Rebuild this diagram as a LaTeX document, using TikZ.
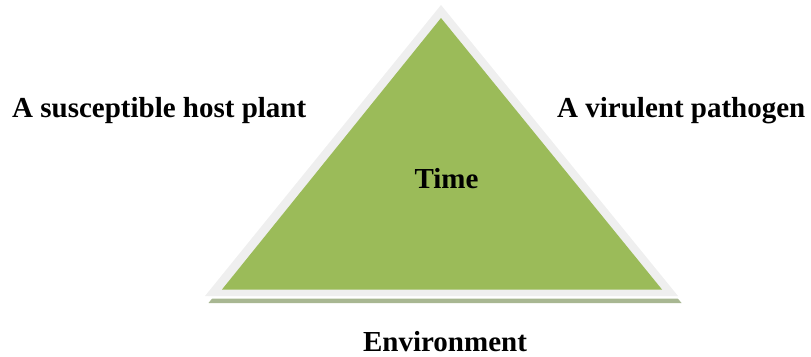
\documentclass[tikz,border=0pt]{standalone}
\usepackage{fontspec}
\setmainfont{Liberation Serif}
\begin{document}
\begin{tikzpicture}[x=1pt,y=-1pt,
  label/.style={font=\fontsize{29}{34}\selectfont\bfseries, inner sep=0pt, text=black},
  face/.style={fill=triGreen},
  rim/.style={fill=rimGray},
  shade/.style={fill=shadeGreen}]
\definecolor{triGreen}{HTML}{9BBB59}
\definecolor{rimGray}{HTML}{EFEFEF}
\definecolor{shadeGreen}{HTML}{A8B792}
\useasboundingbox (0,0) rectangle (811,356);
% corner points of the outer rim
\coordinate (top) at (441,5);
\coordinate (bl) at (205,296);
\coordinate (br) at (678,296);
% drop shadow and the white gap above it
\fill[shade] ([shift={(3.5,7)}]top) -- ([shift={(3.5,7)}]bl) -- ([shift={(3.5,7)}]br) -- cycle;
\fill[white] ([shift={(1,2.5)}]top) -- ([shift={(1,2.5)}]bl) -- ([shift={(1,2.5)}]br) -- cycle;
% light rim and green face
\fill[rim] (top) -- (bl) -- (br) -- cycle;
\fill[face] (441,18) -- (222,289.5) -- (662,289.5) -- cycle;
% labels
\node[label, anchor=base west] (host) at (12,117) {A susceptible host plant};
\node[label, anchor=base west] (pathogen) at (557,117) {A virulent pathogen};
\node[label, anchor=base] (time) at (446.5,188) {Time};
\node[label, anchor=base] (env) at (445,351) {Environment};
\end{tikzpicture}
\end{document}
